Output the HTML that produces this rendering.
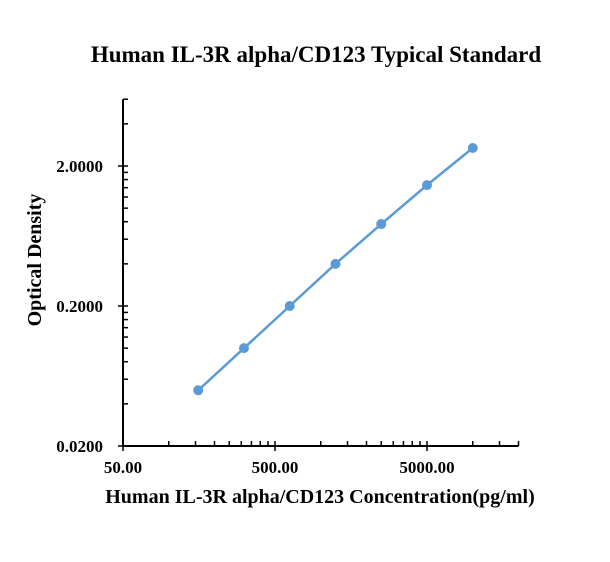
<!DOCTYPE html>
<html><head><meta charset="utf-8"><style>
body{margin:0;background:#fff}
svg text{font-family:"Liberation Serif",serif;font-weight:bold;fill:#000}
</style></head><body>
<svg id="chart" width="610" height="557" xmlns="http://www.w3.org/2000/svg">
<text x="316" y="62" text-anchor="middle" font-size="23">Human IL-3R alpha/CD123 Typical Standard</text>
<text x="320" y="503" text-anchor="middle" font-size="20">Human IL-3R alpha/CD123 Concentration(pg/ml)</text>
<text transform="translate(41,260) rotate(-90)" text-anchor="middle" font-size="20">Optical Density</text>
<g id="axes"></g>
<g id="series"></g>
</svg>
<script>
const concentrations=[156.25,312.5,625,1250,2500,5000,10000];
const odValues=[0.050,0.100,0.200,0.400,0.770,1.46,2.69];
const xTickLabels=["50.00","500.00","5000.00"];
const yTickLabels=["0.0200","0.2000","2.0000"];
const NS="http://www.w3.org/2000/svg";
const X0=123,XD=152,Y0=446,YD=140;
function xs(v){return X0+Math.log10(v/50)*XD;}
function ys(v){return Y0-Math.log10(v/0.02)*YD;}
function mk(tag,attrs,parent){const e=document.createElementNS(NS,tag);for(const k in attrs)e.setAttribute(k,attrs[k]);parent.appendChild(e);return e;}
const ax=document.getElementById('axes');
let l=mk('line',{x1:xs(50),x2:xs(20000),y1:Y0,y2:Y0,stroke:'#000','stroke-width':2},ax);


l=mk('line',{x1:X0,x2:X0,y1:ys(6),y2:Y0,stroke:'#000','stroke-width':2},ax);


[50,500,5000].forEach((v,i)=>{
  let t=mk('line',{x1:xs(v),x2:xs(v),y1:Y0-5,y2:Y0+5,stroke:'#000','stroke-width':1.5},ax);
  
  
  let tx=mk('text',{x:xs(v),y:Y0+27,'text-anchor':'middle','font-size':17},ax);
  tx.textContent=xTickLabels[i];
  
  
});
[50,500,5000].forEach(d=>{for(let m=2;m<=9;m++){const v=d*m;if(v>20000)break;
  let t=mk('line',{x1:xs(v),x2:xs(v),y1:Y0-5,y2:Y0,stroke:'#000','stroke-width':1.5},ax);
  
  }});
[0.02,0.2,2].forEach((v,i)=>{
  let t=mk('line',{x1:X0-5,x2:X0+5,y1:ys(v),y2:ys(v),stroke:'#000','stroke-width':1.5},ax);
  
  
  let tx=mk('text',{x:X0-20,y:ys(v)+6,'text-anchor':'end','font-size':17},ax);
  tx.textContent=yTickLabels[i];
  
  
});
[0.02,0.2,2].forEach(d=>{for(let m=2;m<=9;m++){const v=d*m;if(v>6)break;
  let t=mk('line',{x1:X0,x2:X0+5,y1:ys(v),y2:ys(v),stroke:'#000','stroke-width':1.5},ax);
  
  }});
const sg=document.getElementById('series');
const pts=concentrations.map((c,i)=>xs(c)+','+ys(odValues[i])).join(' ');
let pl=mk('polyline',{points:pts,fill:'none',stroke:'#5b9bd5','stroke-width':2.5},sg);


concentrations.forEach((c,i)=>{
  let p=mk('circle',{cx:xs(c),cy:ys(odValues[i]),r:5,fill:'#5b9bd5'},sg);
  
  
});
</script>
</body></html>
